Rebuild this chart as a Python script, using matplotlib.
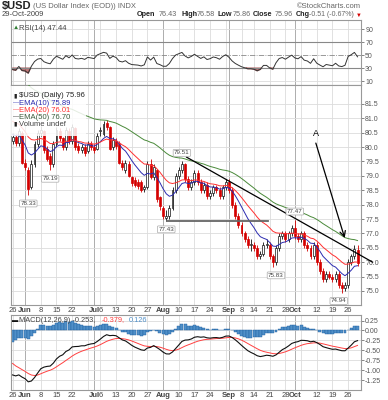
import numpy as np
import pandas as pd
import matplotlib
matplotlib.use("Agg")
import matplotlib.pyplot as plt
from matplotlib.patches import Rectangle

plt.rcParams['font.family'] = ['Liberation Sans', 'DejaVu Sans']

# trading days shown on the chart
dates = pd.bdate_range("2009-05-26", "2009-10-29")
dates = dates[~dates.isin(pd.to_datetime(["2009-07-03", "2009-09-07"]))]

opens = [80.20, 80.35, 80.15, 80.50, 79.45, 79.20, 78.60, 79.40, 80.10, 80.50,
         80.55, 79.95, 79.70, 79.40, 80.10, 80.55, 80.30, 80.00, 80.55, 80.20,
         80.65, 80.05, 79.90, 80.00, 79.85, 80.10, 80.00, 79.95, 80.55, 80.45,
         80.85, 80.70, 80.00, 80.20, 80.10, 79.45, 79.20, 79.40, 78.95, 78.85,
         78.80, 78.80, 78.55, 78.60, 79.40, 78.95, 79.20, 78.25, 77.90, 77.55,
         77.60, 77.90, 78.50, 79.00, 79.20, 79.40, 78.90, 78.60, 78.80, 79.10,
         78.80, 78.50, 78.70, 78.30, 78.40, 78.60, 78.50, 78.30, 78.60, 78.80,
         78.50, 78.00, 77.60, 77.30, 77.00, 76.80, 76.60, 76.60, 76.50, 76.20,
         76.30, 76.60, 76.60, 76.20, 76.00, 76.50, 76.90, 77.00, 76.80, 77.00,
         77.20, 76.90, 76.80, 77.00, 76.60, 76.50, 76.20, 76.60, 76.00, 75.70,
         75.40, 75.60, 75.50, 75.40, 75.60, 75.20, 75.10, 75.20, 76.00, 76.20,
         76.43]
closes = [80.35, 80.15, 80.55, 79.45, 79.30, 78.55, 79.40, 80.10, 80.50, 80.60,
          79.90, 79.60, 79.40, 80.10, 80.60, 80.30, 80.00, 80.60, 80.20, 80.70,
          80.00, 79.90, 80.00, 79.80, 80.10, 80.00, 79.90, 80.40, 80.60, 80.80,
          80.70, 79.95, 80.25, 80.05, 79.45, 79.30, 79.45, 79.00, 78.75, 78.70,
          78.65, 78.50, 78.60, 79.40, 78.95, 79.30, 78.20, 77.95, 77.60, 77.60,
          77.90, 78.50, 79.00, 79.20, 79.40, 78.90, 78.60, 78.80, 79.10, 78.80,
          78.50, 78.70, 78.30, 78.40, 78.60, 78.50, 78.30, 78.60, 78.80, 78.50,
          78.00, 77.60, 77.30, 77.00, 76.80, 76.60, 76.60, 76.50, 76.20, 76.30,
          76.60, 76.60, 76.20, 76.00, 76.50, 76.90, 77.00, 76.80, 77.00, 77.20,
          76.90, 76.80, 77.00, 76.60, 76.50, 76.20, 76.60, 76.00, 75.70, 75.40,
          75.60, 75.50, 75.40, 75.60, 75.20, 75.10, 75.20, 76.00, 76.20, 76.47,
          75.96]
highs = [80.50, 80.45, 80.65, 80.55, 79.60, 79.30, 79.55, 80.20, 80.60, 80.75,
         80.60, 80.05, 79.80, 80.20, 80.70, 80.65, 80.35, 80.70, 80.65, 80.80,
         80.70, 80.15, 80.10, 80.10, 80.20, 80.20, 80.10, 80.50, 80.70, 80.90,
         80.95, 80.75, 80.35, 80.30, 80.20, 79.55, 79.55, 79.50, 79.00, 78.95,
         78.90, 78.85, 78.70, 79.50, 79.60, 79.40, 79.25, 78.30, 77.95, 77.80,
         78.00, 78.60, 79.10, 79.30, 79.51, 79.45, 79.00, 78.90, 79.20, 79.20,
         78.90, 78.80, 78.80, 78.50, 78.70, 78.70, 78.60, 78.70, 78.90, 78.90,
         78.60, 78.10, 77.70, 77.40, 77.10, 76.90, 76.80, 76.70, 76.60, 76.40,
         76.70, 76.80, 76.70, 76.30, 76.60, 77.00, 77.10, 77.10, 77.10, 77.30,
         77.47, 77.00, 77.10, 77.10, 76.70, 76.60, 76.70, 76.70, 76.10, 75.80,
         75.70, 75.70, 75.60, 75.70, 75.70, 75.30, 75.30, 76.10, 76.30, 76.60,
         76.58]
lows = [80.10, 80.05, 80.05, 79.40, 79.20, 78.33, 78.55, 79.30, 80.00, 80.40,
        79.80, 79.50, 79.19, 79.30, 80.00, 80.20, 79.90, 79.90, 80.10, 80.10,
        79.90, 79.80, 79.80, 79.70, 79.80, 79.90, 79.80, 79.90, 80.40, 80.40,
        80.60, 79.90, 79.90, 79.95, 79.40, 79.20, 79.10, 78.95, 78.65, 78.60,
        78.55, 78.45, 78.45, 78.55, 78.90, 78.85, 78.10, 77.80, 77.50, 77.43,
        77.50, 77.80, 78.40, 78.90, 79.10, 78.80, 78.50, 78.50, 78.70, 78.70,
        78.40, 78.40, 78.20, 78.20, 78.30, 78.40, 78.20, 78.20, 78.50, 78.40,
        77.90, 77.50, 77.20, 76.90, 76.70, 76.50, 76.40, 76.40, 76.10, 76.10,
        76.20, 76.50, 76.10, 75.83, 75.90, 76.40, 76.80, 76.70, 76.70, 76.90,
        76.80, 76.70, 76.70, 76.50, 76.40, 76.10, 76.10, 75.90, 75.60, 75.30,
        75.30, 75.40, 75.30, 75.30, 75.10, 74.94, 75.00, 75.10, 75.90, 76.10,
        75.86]

ema_start = {10: 80.45, 20: 80.90, 50: 82.75}
macd_fast_start, macd_slow_start, signal_start = 81.50, 82.62, -0.83
rsi_gain_start, rsi_loss_start = 0.10, 0.26

week_ticks = ["2009-05-26", "2009-06-01", "2009-06-08", "2009-06-15", "2009-06-22",
              "2009-07-01", "2009-07-06", "2009-07-13", "2009-07-20", "2009-07-27",
              "2009-08-03", "2009-08-10", "2009-08-17", "2009-08-24", "2009-09-01",
              "2009-09-08", "2009-09-14", "2009-09-21", "2009-09-28", "2009-10-01",
              "2009-10-12", "2009-10-19", "2009-10-26"]
week_labels = ["26", "Jun", "8", "15", "22", "Jul", "6", "13", "20", "27", "Aug", "10",
               "17", "24", "Sep", "8", "14", "21", "28", "Oct", "12", "19", "26"]
extra_grid = ["2009-06-29", "2009-08-31", "2009-10-05"]

price_labels = [("2009-06-02", 78.33, "78.33", "below"), ("2009-06-11", 79.19, "79.19", "below"),
                ("2009-08-04", 77.43, "77.43", "below"), ("2009-08-11", 79.51, "79.51", "above"),
                ("2009-09-23", 75.83, "75.83", "below"), ("2009-10-01", 77.47, "77.47", "above"),
                ("2009-10-21", 74.94, "74.94", "below")]

n = len(dates)
xi = np.arange(n)


def ema(values, start, span):
    a = 2.0 / (span + 1)
    out = [start]
    for v in list(values)[1:]:
        out.append(out[-1] + a * (v - out[-1]))
    return np.array(out)


def rsi(values, g0, l0, period=14):
    g, l = g0, l0
    out = [100 - 100 / (1 + g / l)]
    for prev, cur in zip(values[:-1], values[1:]):
        ch = cur - prev
        g = (g * (period - 1) + max(ch, 0)) / period
        l = (l * (period - 1) + max(-ch, 0)) / period
        out.append(100 - 100 / (1 + g / l))
    return np.array(out)


ema10 = ema(closes, ema_start[10], 10)
ema20 = ema(closes, ema_start[20], 20)
ema50 = ema(closes, ema_start[50], 50)
macd = ema(closes, macd_fast_start, 12) - ema(closes, macd_slow_start, 26)
signal = ema(macd, signal_start, 9)
hist = macd - signal
rsi14 = rsi(closes, rsi_gain_start, rsi_loss_start)

pos = {d: i for i, d in enumerate(dates)}
tick_x = [pos[pd.Timestamp(d)] for d in week_ticks]
grid_x = sorted(tick_x + [pos[pd.Timestamp(d)] for d in extra_grid])
month_x = [pos[pd.Timestamp(d)] for d in ["2009-06-01", "2009-07-01", "2009-08-03",
                                           "2009-09-01", "2009-10-01"]]

W, H = 388, 400
fig = plt.figure(figsize=(W / 100, H / 100), dpi=100)


def px_rect(x0, y0, x1, y1):
    return [x0 / W, 1 - y1 / H, (x1 - x0) / W, (y1 - y0) / H]


def px_text(x, y, s, **kw):
    return fig.text(x / W, 1 - y / H, s, va='center', **kw)


ax_rsi = fig.add_axes(px_rect(11, 20, 361, 85))
ax = fig.add_axes(px_rect(11, 85, 361, 305))
ax_macd = fig.add_axes(px_rect(11, 315, 361, 390))

grid_c = '#dcdcdc'
for a in (ax_rsi, ax, ax_macd):
    a.set_xlim(-0.5, 111.1)
    for gx in grid_x:
        a.axvline(gx, color='#a0a0a0' if gx in month_x else grid_c, lw=0.6, zorder=0)
    a.yaxis.tick_right()
    a.tick_params(axis='y', labelsize=5, colors='#555555', length=2, width=0.5, pad=1)
    a.tick_params(axis='x', labelsize=5.5, colors='#444444', length=0, pad=1.5)
    for s in a.spines.values():
        s.set_color('#999999')
        s.set_linewidth(0.8)
    a.set_xticks(tick_x)
    a.set_xticklabels([])

for a in (ax, ax_macd):
    a.set_xticklabels(week_labels)
    for lab in a.get_xticklabels():
        if lab.get_text().isalpha():
            lab.set_fontweight('bold')

# RSI panel
ax_rsi.set_ylim(4, 104)
ax_rsi.set_yticks([10, 30, 50, 70, 90])
for v in (10, 90):
    ax_rsi.axhline(v, color=grid_c, lw=0.6, zorder=0)
ax_rsi.axhline(70, color='#888888', lw=0.8)
ax_rsi.axhline(30, color='#888888', lw=0.8)
ax_rsi.axhline(50, color='#888888', lw=0.6, ls='-.')
ax_rsi.plot(xi, rsi14, color='#333333', lw=0.7)
ax_rsi.fill_between(xi, rsi14, 30, where=rsi14 < 30, color='#a04040', alpha=0.7, interpolate=True)
ax_rsi.fill_between(xi, rsi14, 70, where=rsi14 > 70, color='#40a040', alpha=0.7, interpolate=True)
ax_rsi.text(0.005, 0.93, "\u25b2", transform=ax_rsi.transAxes, fontsize=4.5, color='#2e7d32', va='top')
ax_rsi.text(0.022, 0.93, "RSI(14) 47.44", transform=ax_rsi.transAxes, fontsize=5.5,
            color='#444444', va='top')

# price panel
ax.set_ylim(74.51, 82.16)
pticks = np.arange(75.0, 81.51, 0.5)
ax.set_yticks(pticks)
ax.set_yticklabels(["%.1f" % t for t in pticks])
for t in pticks:
    ax.axhline(t, color=grid_c, lw=0.6, zorder=0)

prev = [opens[0]] + closes[:-1]
for i in range(n):
    o, h, l, c = opens[i], highs[i], lows[i], closes[i]
    col = '#d40000' if c < prev[i] else '#111111'
    ax.vlines(i, l, h, color=col, lw=0.6, zorder=3)
    face = col if c < o else 'white'
    ax.bar(i, max(abs(c - o), 0.02), bottom=min(o, c), width=0.62, color=face,
           edgecolor=col, linewidth=0.5, zorder=4)

ax.plot(xi, ema10, color='#2b2bb0', lw=0.7, zorder=5)
ax.plot(xi, ema20, color='#ff3030', lw=0.7, zorder=5)
ax.plot(xi, ema50, color='#4a8a3a', lw=0.7, zorder=5)

# drawn lines
ax.plot([55.5, 114.8], [79.65, 76.0], color='black', lw=0.9, zorder=6, clip_on=False)
ax.plot([49.2, 81.4], [77.43, 77.43], color='#666666', lw=1.3, zorder=6)
ax.annotate("", xy=(105.9, 76.84), xytext=(96.7, 80.14),
            arrowprops=dict(arrowstyle='->', color='black', lw=0.9, shrinkA=0, shrinkB=0), zorder=7)
ax.text(96.7, 80.3, "A", fontsize=6.5, ha='center', va='bottom', zorder=7)

for d, p, s, where in price_labels:
    off = 6 if where == 'above' else -6
    ax.annotate(s, xy=(pos[pd.Timestamp(d)], p), xytext=(0, off), textcoords='offset points',
                ha='center', va='center', fontsize=4.5, color='#444444', zorder=8,
                bbox=dict(boxstyle='round,pad=0.15', fc='white', ec='#aaaaaa', lw=0.5))

# legend block
ax.add_patch(Rectangle((0.0, 0.77), 0.213, 0.225, transform=ax.transAxes, fc='white',
                       ec='none', alpha=0.85, zorder=9))
leg = [("\u25ae", "$USD (Daily) 75.96", '#222222', '#222222'),
       ("\u2014", "EMA(10) 75.89", '#2b2bb0', '#2b2bb0'),
       ("\u2014", "EMA(20) 76.01", '#ff3030', '#ff3030'),
       ("\u2014", "EMA(50) 76.70", '#222222', '#3a5a3a'),
       ("\u25ae", "Volume undef", '#222222', '#444444')]
for k, (icon, s, ic, tc) in enumerate(leg):
    yy = 0.95 - k * 0.032
    ax.text(0.006, yy, icon, transform=ax.transAxes, fontsize=4.5, color=ic, va='center', zorder=10)
    ax.text(0.024, yy, s, transform=ax.transAxes, fontsize=5.5, color=tc, va='center', zorder=10)

# MACD panel
ax_macd.set_ylim(-1.5, 0.39)
mticks = np.arange(-1.25, 0.26, 0.25)
ax_macd.set_yticks(mticks)
ax_macd.set_yticklabels(["%.2f" % t for t in mticks])
for t in mticks:
    ax_macd.axhline(t, color=grid_c, lw=0.6, zorder=0)
ax_macd.bar(xi, hist, width=0.95, color='#4f8fc8', edgecolor='#1f5f9f', linewidth=0.3, zorder=2)
ax_macd.plot(xi, signal, color='#ff4040', lw=0.7, zorder=3)
ax_macd.plot(xi, macd, color='#111111', lw=0.8, zorder=4)

px_text(12, 320, "\u25ac", fontsize=4.5, color='#111111')
px_text(19, 320, "MACD(12,26,9) -0.253,", fontsize=5.3, color='#444444')
px_text(102, 320, "-0.379,", fontsize=5.3, color='#ff4040')
px_text(129, 320, "0.126", fontsize=5.3, color='#4f8fc8')

# header
px_text(2, 6, "$USD", fontsize=8, fontweight='bold', color='#222222')
px_text(33, 6, "(US Dollar Index (EOD)) INDX", fontsize=5.5, color='#666666')
px_text(2, 15, "29-Oct-2009", fontsize=5.5, color='#444444')
px_text(361, 6, "\u00a9StockCharts.com", fontsize=5.5, color='#666666', ha='right')
b = dict(fontsize=5.2, fontweight='bold', color='#222222')
v = dict(fontsize=5.2, color='#666666')
quote = [(137, "Open", b), (159, "76.43", v), (181, "High", b), (197, "76.58", v),
         (217, "Low", b), (233, "75.86", v), (253, "Close", b), (275, "75.96", v),
         (296, "Chg", b), (309, "-0.51 (-0.67%)", dict(fontsize=5.0, color='#666666'))]
for qx, s, kw in quote:
    px_text(qx, 15, s, **kw)
px_text(356, 15, "\u25bc", fontsize=4.2, color='#d40000')

fig.savefig("out.png", dpi=100)
